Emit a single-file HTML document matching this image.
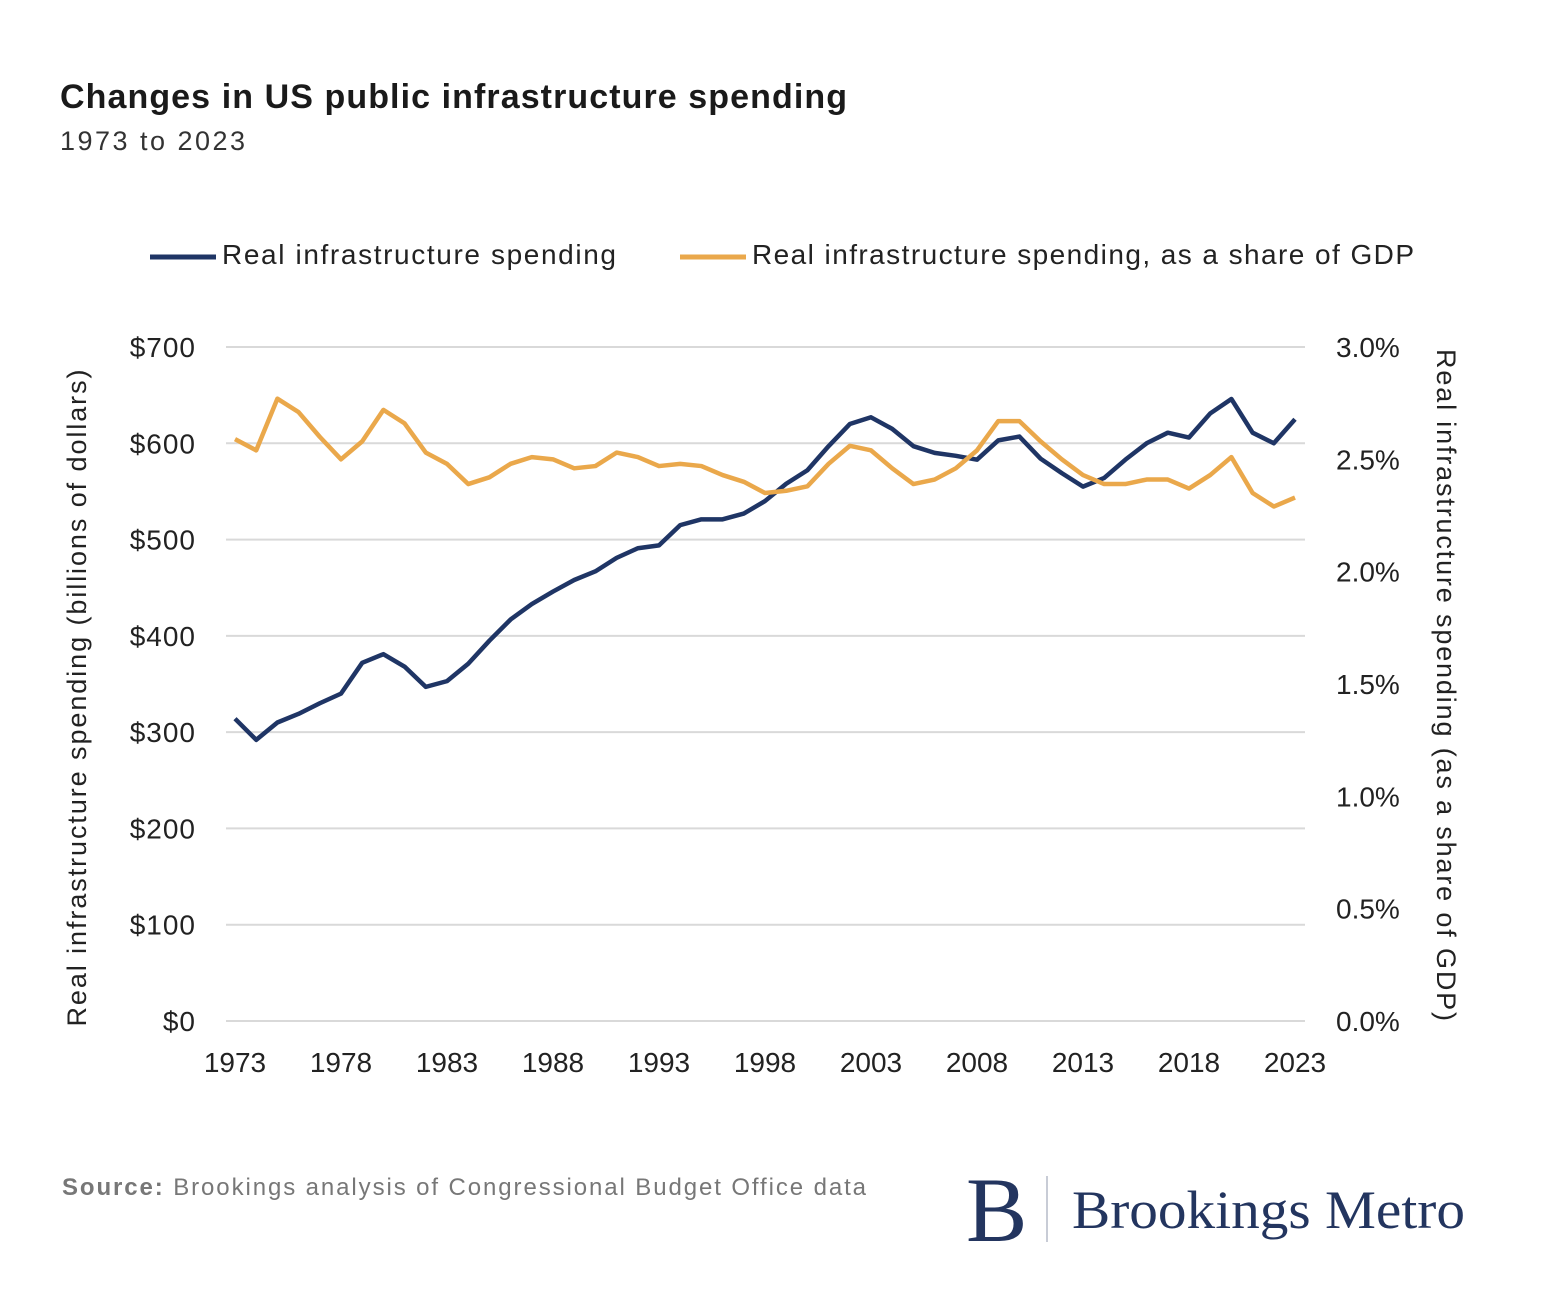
<!DOCTYPE html>
<html><head><meta charset="utf-8"><style>
body{margin:0;background:#fff;width:1562px;height:1286px;overflow:hidden;font-family:"Liberation Sans",sans-serif}
</style></head><body>
<svg id="chart" width="1562" height="1286" xmlns="http://www.w3.org/2000/svg" font-family="Liberation Sans, sans-serif">
<text x="60" y="108" font-size="34" font-weight="bold" fill="#1a1a1a" textLength="787" lengthAdjust="spacing">Changes in US public infrastructure spending</text>
<text x="60" y="150" font-size="27" fill="#333" textLength="185" lengthAdjust="spacing">1973 to 2023</text>
<g>
<line x1="150" y1="257" x2="216" y2="257" stroke="#1f3565" stroke-width="5"/>
<text x="222" y="264" font-size="28" fill="#222" textLength="394" lengthAdjust="spacing">Real infrastructure spending</text>
<line x1="680" y1="257" x2="746" y2="257" stroke="#eaa84b" stroke-width="5"/>
<text x="752" y="264" font-size="28" fill="#222" textLength="662" lengthAdjust="spacing">Real infrastructure spending, as a share of GDP</text>
</g>
<g id="grid"></g><g id="axes"></g><g id="series"></g>
<text transform="translate(86,698) rotate(-90)" text-anchor="middle" font-size="27" fill="#222" textLength="657" lengthAdjust="spacing">Real infrastructure spending (billions of dollars)</text>
<text transform="translate(1437,685) rotate(90)" text-anchor="middle" font-size="27" fill="#222" textLength="672" lengthAdjust="spacing">Real infrastructure spending (as a share of GDP)</text>
<text x="62" y="1195" font-size="24" fill="#777" textLength="804" lengthAdjust="spacing"><tspan font-weight="bold">Source:</tspan> Brookings analysis of Congressional Budget Office data</text>
<g>
<text x="966" y="1241" font-family="Liberation Serif, serif" font-size="92" fill="#23355f">B</text>
<line x1="1047" y1="1176" x2="1047" y2="1242" stroke="#c8ccd6" stroke-width="2"/>
<text x="1072" y="1228" font-family="Liberation Serif, serif" font-size="54" fill="#23355f" textLength="393" lengthAdjust="spacingAndGlyphs">Brookings Metro</text>
</g>
</svg>
<script>
const years=[];for(let y=1973;y<=2023;y++)years.push(y);
const spending=[314,292,310,319,330,340,372,381,368,347,353,371,395,417,433,446,458,467,481,491,494,515,521,521,527,540,558,572,597,620,627,615,597,590,587,583,603,607,584,569,555,564,583,600,611,606,631,646,611,600,625];
const share=[2.59,2.54,2.77,2.71,2.60,2.50,2.58,2.72,2.66,2.53,2.48,2.39,2.42,2.48,2.51,2.50,2.46,2.47,2.53,2.51,2.47,2.48,2.47,2.43,2.40,2.35,2.36,2.38,2.48,2.56,2.54,2.46,2.39,2.41,2.46,2.54,2.67,2.67,2.58,2.50,2.43,2.39,2.39,2.41,2.41,2.37,2.43,2.51,2.35,2.29,2.33];
const leftTicks=[0,100,200,300,400,500,600,700];
const leftLabels=["$0","$100","$200","$300","$400","$500","$600","$700"];
const rightTicks=[0,0.5,1,1.5,2,2.5,3];
const rightLabels=["0.0%","0.5%","1.0%","1.5%","2.0%","2.5%","3.0%"];
const xTicks=[1973,1978,1983,1988,1993,1998,2003,2008,2013,2018,2023];
const NS="http://www.w3.org/2000/svg";
const x=v=>235+(v-1973)*(1295-235)/50;
const yL=v=>1021-v*(1021-347)/700;
const yR=v=>1021-v*(1021-347)/3;
function mk(t,a,p,txt){const e=document.createElementNS(NS,t);for(const k in a)e.setAttribute(k,a[k]);if(txt!==undefined)e.textContent=txt;p.appendChild(e);return e;}
const grid=document.getElementById('grid'),axes=document.getElementById('axes'),ser=document.getElementById('series');
leftTicks.forEach((v,i)=>{
 const l=mk('line',{x1:226,x2:1305,y1:yL(v),y2:yL(v),stroke:'#d9d9d9','stroke-width':2},grid);
 
 
 const t=mk('text',{x:196,y:yL(v)+10,'text-anchor':'end','font-size':28,'letter-spacing':1,fill:'#222'},axes,leftLabels[i]);
 
 
});
rightTicks.forEach((v,i)=>{
 const t=mk('text',{x:1336,y:yR(v)+10,'font-size':28,fill:'#222'},axes,rightLabels[i]);
 
 
});
xTicks.forEach(v=>{
 const t=mk('text',{x:x(v),y:1072,'text-anchor':'middle','font-size':28,fill:'#222'},axes,String(v));
 
 
});
const p1=mk('path',{d:years.map((yr,i)=>(i?'L':'M')+x(yr)+','+yL(spending[i])).join(''),fill:'none',stroke:'#1f3565','stroke-width':4.5,'stroke-linejoin':'round'},ser);


const p2=mk('path',{d:years.map((yr,i)=>(i?'L':'M')+x(yr)+','+yR(share[i])).join(''),fill:'none',stroke:'#eaa84b','stroke-width':4.5,'stroke-linejoin':'round'},ser);


</script>
</body></html>
